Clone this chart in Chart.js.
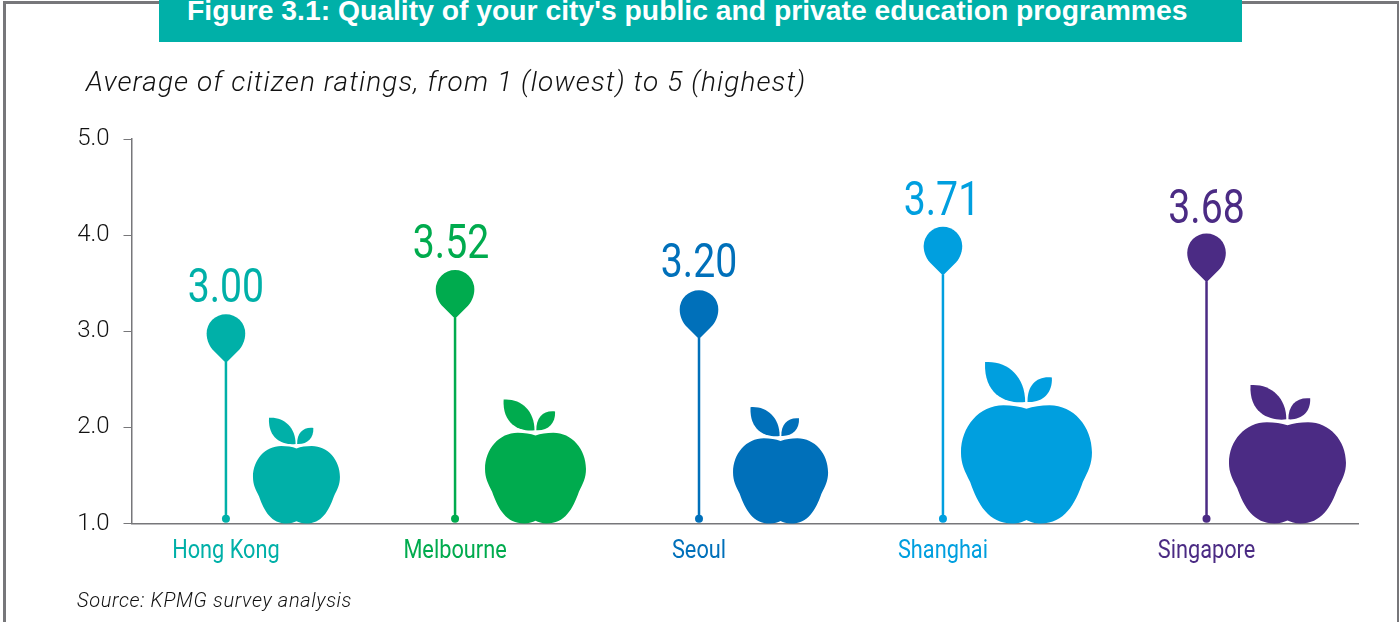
<!DOCTYPE html>
<html><head><meta charset="utf-8">
<script src="https://cdn.jsdelivr.net/npm/chart.js@4"></script>
<style>
html,body{margin:0;padding:0;background:#fff;overflow:hidden}
#wrap{position:relative;width:1399px;height:622px;overflow:hidden}
#frame{position:absolute;left:3px;top:1px;width:1391px;height:640px;border:3px solid #77777a;box-sizing:content-box}
#banner{position:absolute;left:159px;top:0;width:1083px;height:42px;background:#00B0A8;overflow:hidden}
#banner div{position:absolute;left:28px;top:-8px;color:#fff;font:bold 28.3px "Liberation Sans",sans-serif;line-height:36px;white-space:nowrap}
#sub{position:absolute;left:86px;top:66px;font:italic 300 28px Roboto,sans-serif;letter-spacing:1.1px;color:#111;white-space:nowrap;line-height:32px}
#src{position:absolute;left:77px;top:588px;font:italic 300 20px Roboto,sans-serif;letter-spacing:.65px;color:#111;white-space:nowrap;line-height:24px}
canvas{position:absolute;left:0;top:0}
</style></head>
<body><div id="wrap">
<div id="frame"></div>
<canvas id="c" width="1399" height="622"></canvas>
<div id="banner"><div id="title"></div></div>
<div id="sub"></div>
<div id="src"></div>
</div>
<script>
const titleText = "Figure 3.1: Quality of your city's public and private education programmes";
const subtitleText = "Average of citizen ratings, from 1 (lowest) to 5 (highest)";
const sourceText = "Source: KPMG survey analysis";

const cities = ["Hong Kong", "Melbourne", "Seoul", "Shanghai", "Singapore"];
const ratings = [3.00, 3.52, 3.20, 3.71, 3.68];
const ratingLabels = ["3.00", "3.52", "3.20", "3.71", "3.68"];
const pinLevels = [2.68, 3.14, 2.93, 3.59, 3.52];
const stemBase = 1.05;
const appleLevels = [2.10, 2.29, 2.21, 2.68, 2.44];
// horizontal slots along the axis, 0-100
const stemSlots = [7.70, 26.38, 46.27, 66.16, 87.65];
const appleSlots = [13.45, 32.94, 52.92, 72.97, 94.25];
const appleWidths = [7.09, 8.23, 7.75, 10.68, 9.54];
const labelNudge = [0, -4, 0, -1, 0];
const labelLift = [60, 60, 61, 60, 58];
const colors = ["#00B0A8", "#00AB4E", "#0070BA", "#009FDF", "#4B2B84"];
const yTicks = [1, 2, 3, 4, 5];

document.getElementById('title').textContent = titleText;
document.getElementById('sub').textContent = subtitleText;
document.getElementById('src').textContent = sourceText;

function applePath(ctx, cx, top, base, w) {
  const total = base - top, h = total / 1.366, oy = base - h;
  const X = u => cx + u * w, Y = v => oy + v * h;
  const C = (a,b,c,d,e,f) => ctx.bezierCurveTo(X(a),Y(b),X(c),Y(d),X(e),Y(f));
  ctx.beginPath();
  ctx.moveTo(X(0),Y(.03));
  C(-.05,.01,-.11,0,-.176,0);
  C(-.36,0,-.5,.18,-.5,.40);
  C(-.5,.50,-.47,.56,-.43,.65);
  C(-.37,.84,-.29,1,-.11,1);
  C(-.06,1,-.03,.985,0,.97);
  C(.03,.985,.06,1,.11,1);
  C(.29,1,.37,.84,.43,.65);
  C(.47,.56,.5,.50,.5,.40);
  C(.5,.18,.36,0,.176,0);
  C(.11,0,.05,.01,0,.03);
  ctx.closePath();
  ctx.fill();
  ctx.beginPath();
  ctx.moveTo(X(-.316),Y(-.366));
  C(-.15,-.38,-.01,-.25,-.01,-.028);
  C(-.12,-.01,-.33,-.06,-.316,-.366);
  ctx.closePath();
  ctx.fill();
  ctx.beginPath();
  ctx.moveTo(X(.008),Y(-.028));
  C(.005,-.17,.08,-.25,.194,-.235);
  C(.2,-.1,.12,-.02,.008,-.028);
  ctx.closePath();
  ctx.fill();
}
function pinPath(ctx, x, tip) {
  const r = 19.3, cy = tip - 28.5;
  ctx.beginPath();
  ctx.moveTo(x, tip + 1);
  ctx.lineTo(x - 12, tip - 11);
  ctx.bezierCurveTo(x - 16, tip - 15, x - r, tip - 21, x - r, cy);
  ctx.arc(x, cy, r, Math.PI, 0);
  ctx.bezierCurveTo(x + r, tip - 21, x + 16, tip - 15, x + 12, tip - 11);
  ctx.closePath();
  ctx.fill();
}
function squeezedText(ctx, text, x, y, sx) {
  ctx.save();
  ctx.translate(x, y);
  ctx.scale(sx, 1);
  ctx.fillText(text, 0, 0);
  ctx.restore();
}

const decor = {
  id: 'decor',
  afterDatasetsDraw(chart) {
    const ctx = chart.ctx, ys = chart.scales.y, xs = chart.scales.x;
    ctx.save();
    const base = ys.getPixelForValue(1);
    ctx.textAlign = 'center';
    ctx.textBaseline = 'alphabetic';
    cities.forEach((name, i) => {
      ctx.fillStyle = colors[i];
      const stem = chart.getDatasetMeta(i).data[1];
      pinPath(ctx, stem.x, stem.y);
      ctx.font = '400 49px Roboto,sans-serif';
      squeezedText(ctx, ratingLabels[i], stem.x + labelNudge[i], stem.y - labelLift[i], 0.8);
      const a = chart.getDatasetMeta(cities.length).data[i];
      const w = xs.getPixelForValue(appleSlots[i] + appleWidths[i] / 2) - xs.getPixelForValue(appleSlots[i] - appleWidths[i] / 2);
      applePath(ctx, a.x, a.y, base, w);
      ctx.font = '400 25px Roboto,sans-serif';
      squeezedText(ctx, name, stem.x, 558, 0.87);
    });
    ctx.restore();
  }
};

const stemSets = cities.map((name, i) => ({
  type: 'line', label: name,
  data: [{x: stemSlots[i], y: stemBase}, {x: stemSlots[i], y: pinLevels[i]}],
  borderColor: colors[i], backgroundColor: colors[i], borderWidth: 2.5,
  pointRadius: [4, 0], pointBorderWidth: 0, tension: 0
}));
const appleSet = {
  type: 'scatter', label: 'Apples',
  data: cities.map((n, i) => ({x: appleSlots[i], y: appleLevels[i]})),
  pointRadius: 0, showLine: false
};

new Chart(document.getElementById('c'), {
  data: { datasets: [...stemSets, appleSet] },
  plugins: [decor],
  options: {
    responsive: false, animation: false, maintainAspectRatio: false,
    layout: { padding: { top: 139, right: 41, left: 0, bottom: 0 } },
    plugins: { legend: { display: false }, tooltip: { enabled: false }, title: { display: false } },
    scales: {
      x: {
        type: 'linear', min: 0, max: 100,
        afterBuildTicks(s) { s.ticks = stemSlots.map(v => ({ value: v })); },
        afterFit(s) { s.height = 98.5; },
        grid: { drawOnChartArea: false, drawTicks: false },
        border: { color: '#77777a', width: 1.5 },
        ticks: { display: false }
      },
      y: {
        type: 'linear', min: 1, max: 5,
        afterBuildTicks(s) { s.ticks = yTicks.map(v => ({ value: v })); },
        afterFit(s) { s.width = 131.5; },
        grid: { drawOnChartArea: false, tickLength: 8, tickColor: '#77777a', tickWidth: 1 },
        border: { color: '#77777a', width: 1.5 },
        ticks: {
          padding: 14, color: '#111',
          font: { family: 'Roboto,sans-serif', size: 24, weight: '300' },
          callback: v => Number(v).toFixed(1)
        }
      }
    }
  }
});
</script>
</body></html>
